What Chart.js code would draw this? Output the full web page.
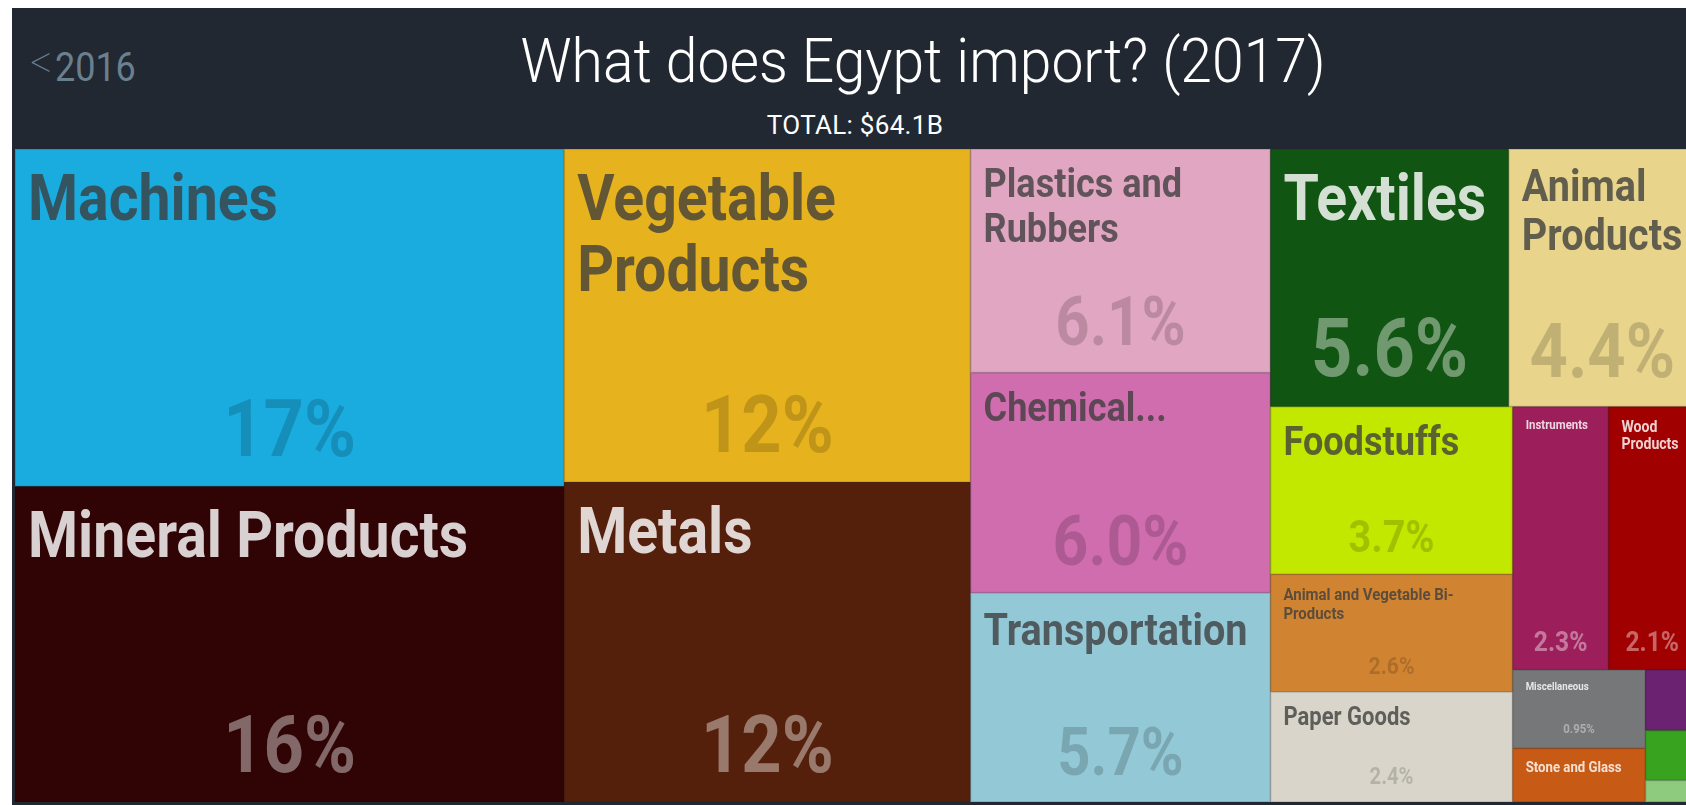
<!DOCTYPE html>
<html lang="en">
<head>
<meta charset="UTF-8">
<title>What does Egypt import? (2017)</title>
<script src="https://cdn.jsdelivr.net/npm/chart.js"></script>
<style>
  html, body { margin: 0; padding: 0; width: 1686px; height: 805px; overflow: hidden; background: #fff; }
  #page { position: absolute; left: 12px; top: 8px; width: 1700px; height: 820px; background: #212832; }
  #prev { position: absolute; left: 30px; top: 45px; font: 400 40px Roboto, sans-serif; color: #6b808f; line-height: 40px;
          transform: scaleX(0.9); transform-origin: left center; }
  #prev span { font-weight: 100; font-size: 48px; position: relative; top: -3px; margin-right: 3px; }
  #title { position: absolute; left: 923px; top: 30px; transform: translateX(-50%) scaleX(0.92); white-space: nowrap;
           font: 300 62px Roboto, sans-serif; color: #fff; line-height: 62px; }
  #total { position: absolute; left: 855px; top: 112px; transform: translateX(-50%); white-space: nowrap;
           font: 400 26px Roboto, sans-serif; color: #fff; line-height: 26px; letter-spacing: 0.3px; }
  #map { position: absolute; left: 15px; top: 149px; }
</style>
</head>
<body>
<div id="page"></div>
<div id="prev"><span>&lt;</span>2016</div>
<div id="title">What does Egypt import? (2017)</div>
<div id="total"></div>
<canvas id="map" width="1681" height="653"></canvas>
<script>
    // import shares by HS section, % of total
    const categories = [
        "Machines", "Mineral Products", "Vegetable Products", "Metals",
        "Plastics and Rubbers", "Chemical Products", "Transportation",
        "Textiles", "Animal Products", "Foodstuffs",
        "Animal and Vegetable Bi-Products", "Paper Goods", "Instruments",
        "Wood Products", "Miscellaneous", "Stone and Glass",
        "Animal Hides", "Footwear and Headwear", "Precious Metals"
    ];
    const shares = [
        16.9, 15.8, 12.35, 11.85,
        6.12, 6.02, 5.72,
        5.6, 4.4, 3.7,
        2.6, 2.43, 2.3,
        2.1, 0.95, 0.65,
        0.28, 0.23, 0.1
    ];
    const totalLabel = "TOTAL: $64.1B";

    // colours and label sizes (px) per tile
    const tileStyle = {
        "Machines":                         { color: "#1aabdf", name: 65, pct: 80 },
        "Mineral Products":                 { color: "#300404", name: 65, pct: 80 },
        "Vegetable Products":               { color: "#e6b31e", name: 65, pct: 80 },
        "Metals":                           { color: "#55200b", name: 65, pct: 80 },
        "Plastics and Rubbers":             { color: "#e1a6c2", name: 41, pct: 68 },
        "Chemical Products":                { color: "#cf6daf", name: 41, pct: 71, lines: 1 },
        "Transportation":                   { color: "#93c8d6", name: 45, pct: 66 },
        "Textiles":                         { color: "#115512", name: 65, pct: 82 },
        "Animal Products":                  { color: "#e8d48b", name: 45, pct: 76 },
        "Foodstuffs":                       { color: "#c2e800", name: 41, pct: 45 },
        "Animal and Vegetable Bi-Products": { color: "#d08431", name: 17, pct: 24 },
        "Paper Goods":                      { color: "#d9d5ca", name: 25, pct: 23 },
        "Instruments":                      { color: "#9c1f5c", name: 13, pct: 28 },
        "Wood Products":                    { color: "#a10000", name: 16, pct: 28 },
        "Miscellaneous":                    { color: "#767779", name: 11, pct: 13 },
        "Stone and Glass":                  { color: "#c75a15", name: 15 },
        "Animal Hides":                     { color: "#6b2271" },
        "Footwear and Headwear":            { color: "#38a31f" },
        "Precious Metals":                  { color: "#8ecb7f" }
    };

    const MAP_W = 1681, MAP_H = 653;   // layout domain
    const SQUEEZE = 0.88;              // narrow the label font
    const FONT = "Roboto, 'DejaVu Sans', sans-serif";

    document.getElementById('total').textContent = totalLabel;

    // squarified treemap (same rule as d3.treemapSquarify)
    function squarify(values, x0, y0, x1, y1) {
        const ratio = (1 + Math.sqrt(5)) / 2;
        const out = [];
        let value = values.reduce((a, b) => a + b, 0);
        let i0 = 0, i1 = 0;
        const n = values.length;
        while (i0 < n) {
            const dx = x1 - x0, dy = y1 - y0;
            let sum = values[i1++];
            let minV = sum, maxV = sum;
            const alpha = Math.max(dy / dx, dx / dy) / (value * ratio);
            let beta = sum * sum * alpha;
            let minRatio = Math.max(maxV / beta, beta / minV);
            for (; i1 < n; ++i1) {
                const v = values[i1];
                sum += v;
                if (v < minV) minV = v;
                if (v > maxV) maxV = v;
                beta = sum * sum * alpha;
                const r = Math.max(maxV / beta, beta / minV);
                if (r > minRatio) { sum -= v; break; }
                minRatio = r;
            }
            if (dx < dy) {
                const yb = y0 + dy * sum / value;
                let x = x0;
                for (let i = i0; i < i1; i++) {
                    const w = dx * values[i] / sum;
                    out[i] = { x0: x, y0: y0, x1: x + w, y1: yb };
                    x += w;
                }
                y0 = yb;
            } else {
                const xb = x0 + dx * sum / value;
                let y = y0;
                for (let i = i0; i < i1; i++) {
                    const h = dy * values[i] / sum;
                    out[i] = { x0: x0, y0: y, x1: xb, y1: y + h };
                    y += h;
                }
                x0 = xb;
            }
            value -= sum;
            i0 = i1;
        }
        return out;
    }

    const order = categories.map((c, i) => i).sort((a, b) => shares[b] - shares[a]);
    const total = () => shares.reduce((a, b) => a + b, 0);
    const rects = squarify(order.map(i => shares[i]), 0, 0, MAP_W, MAP_H);
    const tiles = order.map((i, k) => Object.assign({ name: categories[i], share: shares[i] }, rects[k]));

    function pctText(v) {
        const p = v / total() * 100;
        if (p >= 10) return Math.round(p) + "%";
        if (p >= 1) return p.toFixed(1) + "%";
        return p.toPrecision(2) + "%";
    }

    function isDark(hex) {
        const r = parseInt(hex.slice(1, 3), 16), g = parseInt(hex.slice(3, 5), 16), b = parseInt(hex.slice(5, 7), 16);
        return 0.299 * r + 0.587 * g + 0.114 * b < 128;
    }

    function wrap(ctx, text, maxW, maxLines) {
        const tokens = text.match(/[^\s-]+-?/g);
        const lines = [];
        let cur = '';
        tokens.forEach(tk => {
            const cand = cur ? (cur.endsWith('-') ? cur + tk : cur + ' ' + tk) : tk;
            if (!cur || ctx.measureText(cand).width * SQUEEZE <= maxW) cur = cand;
            else { lines.push(cur); cur = tk; }
        });
        if (cur) lines.push(cur);
        if (lines.length > maxLines) {
            const kept = lines.slice(0, maxLines);
            kept[maxLines - 1] += '...';
            return kept;
        }
        return lines;
    }

    function squeezedText(ctx, txt, x, y) {
        ctx.save();
        ctx.translate(x, y);
        ctx.scale(SQUEEZE, 1);
        ctx.fillText(txt, 0, 0);
        ctx.restore();
    }

    const treemapPlugin = {
        id: 'treemap',
        beforeDatasetsDraw(chart) {
            const { ctx, scales: { x, y } } = chart;
            tiles.forEach(t => {
                const st = tileStyle[t.name];
                const left = x.getPixelForValue(t.x0), right = x.getPixelForValue(t.x1);
                const top = y.getPixelForValue(t.y0), bottom = y.getPixelForValue(t.y1);
                const w = right - left, h = bottom - top;

                ctx.fillStyle = st.color;
                ctx.fillRect(left, top, w, h);
                ctx.strokeStyle = 'rgba(0,0,0,0.12)';
                ctx.lineWidth = 1;
                ctx.strokeRect(left + 0.5, top + 0.5, w - 1, h - 1);

                const dark = isDark(st.color);
                ctx.textBaseline = 'alphabetic';
                if (st.name) {
                    const size = st.name;
                    ctx.font = `700 ${size}px ${FONT}`;
                    ctx.fillStyle = dark ? 'rgba(255,255,255,0.82)' : 'rgba(60,60,60,0.78)';
                    ctx.textAlign = 'left';
                    const lines = wrap(ctx, t.name, w - 26, st.lines || 3);
                    let base = top + 10 + 0.22 * size + 0.711 * size;
                    lines.forEach(l => {
                        squeezedText(ctx, l, left + 13, base);
                        base += size * 1.1;
                    });
                }
                if (st.pct) {
                    const size = st.pct;
                    ctx.font = `700 ${size}px ${FONT}`;
                    ctx.fillStyle = dark ? 'rgba(255,255,255,0.4)' : 'rgba(0,0,0,0.17)';
                    ctx.textAlign = 'center';
                    squeezedText(ctx, pctText(t.share), left + w / 2, bottom - (13 + 0.3 * 0.711 * size));
                }
            });
        }
    };

    new Chart(document.getElementById('map').getContext('2d'), {
        type: 'scatter',
        data: {
            datasets: [{
                label: 'Imports',
                data: tiles.map(t => ({ x: (t.x0 + t.x1) / 2, y: (t.y0 + t.y1) / 2 })),
                pointRadius: 0
            }]
        },
        options: {
            responsive: false,
            animation: false,
            events: [],
            layout: { padding: 0 },
            plugins: { legend: { display: false }, tooltip: { enabled: false } },
            scales: {
                x: { type: 'linear', min: 0, max: MAP_W, display: false },
                y: { type: 'linear', min: 0, max: MAP_H, reverse: true, display: false }
            }
        },
        plugins: [treemapPlugin]
    });
</script>
</body>
</html>
